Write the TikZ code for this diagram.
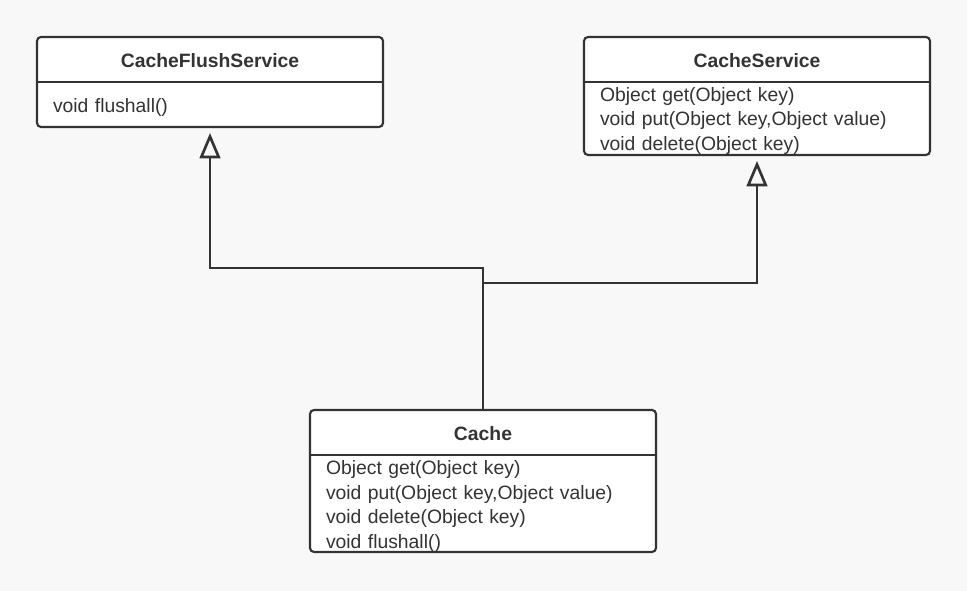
\documentclass[tikz,border=0pt]{standalone}
\usepackage{fontspec}
\setmainfont{Liberation Sans}
\usetikzlibrary{positioning, arrows.meta}
\definecolor{canvas}{RGB}{248,248,248}
\definecolor{ink}{RGB}{51,51,51}
\tikzset{frame/.style={draw=ink, fill=white, line width=1.6pt, rounded corners=3pt, minimum width=259.5pt, inner sep=0pt, outer sep=0pt},
classhead/.style={font=\bfseries\fontsize{14.5}{18}\selectfont, text=ink, text height=12.6pt, text depth=0pt, minimum width=259.5pt, minimum height=33.75pt, inner sep=0pt, outer sep=0pt},
classbody/.style={font=\fontsize{14.5}{18.5}\selectfont, text=ink, text width=235.5pt, align=left, inner xsep=12pt, inner ysep=0pt, outer sep=0pt},
divider/.style={draw=ink, line width=1.6pt},
line/.style={draw=ink, line width=2pt, -{Triangle[open, length=19pt, width=15.5pt]}, shorten >=4.5pt}
}
\begin{document}
\begin{tikzpicture}[x=0.75pt, y=0.75pt]
\fill[canvas] (0,0) rectangle (967,591);
\useasboundingbox (0,0) rectangle (967,591);

% classes
\node[frame, minimum height=67.5pt] (Flush) at (210,509) {};
\node[classhead, below=0pt of Flush.north] (Flush Head) {CacheFlushService};
\node[classbody, below=2pt of Flush Head, minimum height=33.75pt] (Flush Body) {void flushall()};
\draw[divider] (Flush Head.south west) -- (Flush Head.south east);

\node[frame, minimum height=88.5pt] (Service) at (757,495) {};
\node[classhead, below=0pt of Service.north] (Service Head) {CacheService};
\node[classbody, below=2.25pt of Service Head, minimum height=54pt] (Service Body) {Object get(Object key)\\void put(Object key,Object value)\\void delete(Object key)};
\draw[divider] (Service Head.south west) -- (Service Head.south east);

\node[frame, minimum height=106.5pt] (Cache) at (483,110) {};
\node[classhead, below=0pt of Cache.north] (Cache Head) {Cache};
\node[classbody, below=2.25pt of Cache Head, minimum height=72.75pt] (Cache Body) {Object get(Object key)\\void put(Object key,Object value)\\void delete(Object key)\\void flushall()};
\draw[divider] (Cache Head.south west) -- (Cache Head.south east);

% realization
\coordinate (Joint Flush) at (483,323);
\coordinate (Joint Service) at (483,308);
\draw[line] (Cache.north) -- (Joint Flush) -| (Flush.south);
\draw[line] (Joint Service) -| (Service.south);
\end{tikzpicture}
\end{document}
